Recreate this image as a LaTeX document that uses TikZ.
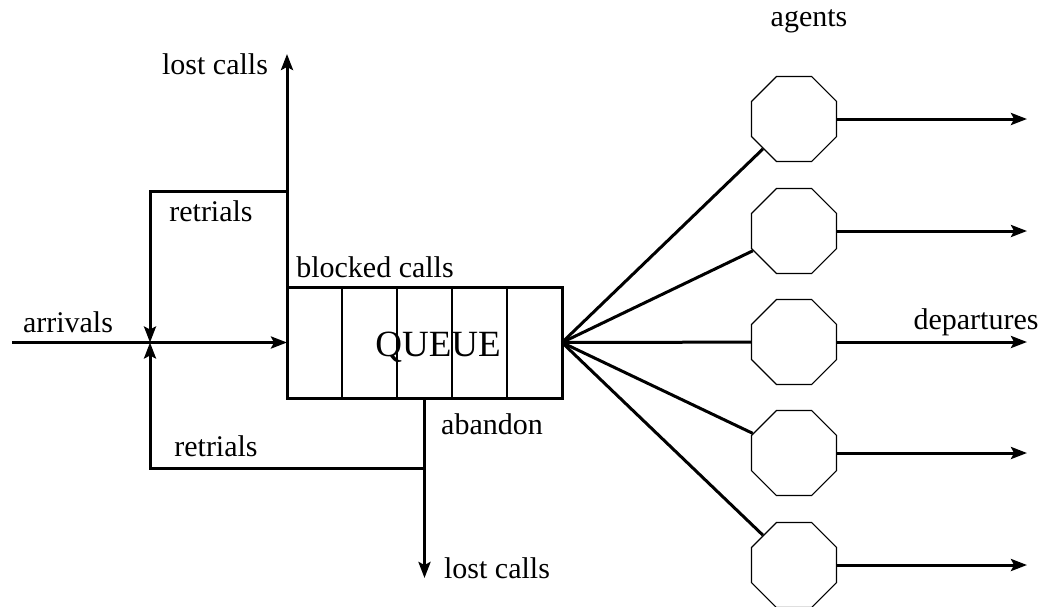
\documentclass[tikz,border=0pt]{standalone}
\usepackage{fontspec}
\setmainfont{Liberation Serif}
\usetikzlibrary{shapes.geometric,arrows.meta}
\begin{document}
\begin{tikzpicture}[x=0.5pt,y=-0.5pt,
  flow/.style={line width=1.5pt,-{Stealth[length=8pt,width=6pt,inset=1.5pt]}},
  plain/.style={line width=1.5pt},
  agent/.style={draw,line width=0.6pt,regular polygon,regular polygon sides=8,minimum size=46pt,inner sep=0pt},
  lbl/.style={font=\fontsize{15pt}{17pt}\selectfont,inner sep=0pt}]
\useasboundingbox (0,0) rectangle (1043,606);
% queue
\node[draw,line width=1.5pt,minimum width=137.5pt,minimum height=55.5pt,inner sep=0pt,outer sep=0pt] (queue) at (424.5,342.5) {};
\foreach \x in {342,397,452,507}{\draw[line width=0.7pt] (\x,287.5) -- (\x,397.5);}
\node[inner sep=0pt,font=\fontsize{18.5pt}{21pt}\selectfont] (qtext) at (438,347) {QUEUE};
% agents
\foreach \i/\y in {1/119,2/231,3/342,4/453,5/565}{
  \node[agent] (a\i) at (794,\y) {};
  \coordinate (o\i) at (1027,\y);
  \draw[plain] (queue.east) -- (a\i);
  \draw[flow] (a\i.east) -- (o\i);
}
% arrivals
\coordinate (in) at (12,342.5);
\coordinate (j) at (150,342.5);
\draw[flow] (in) -- (queue.west);
% upper branch
\coordinate (lc1) at (287,54);
\coordinate (r1) at (287,191);
\draw[flow] (queue.north west) -- (lc1);
\draw[flow] (r1) -| (j);
% lower branch
\coordinate (lc2) at (424.5,578);
\coordinate (r2) at (424.5,468);
\draw[flow] (queue.south) -- (lc2);
\draw[flow] (r2) -| (j);
% labels
\node[lbl] (tlost) at (215,64) {lost calls};
\node[lbl] (tret1) at (211,211) {retrials};
\node[lbl] (tblock) at (375,267) {blocked calls};
\node[lbl] (tarr) at (68,322) {arrivals};
\node[lbl] (tret2) at (216,446) {retrials};
\node[lbl] (tab) at (492,424) {abandon};
\node[lbl] (blost) at (497,568) {lost calls};
\node[lbl] (tagents) at (809,21) {agents};
\node[lbl] (tdep) at (976,322) {departures};
\end{tikzpicture}
\end{document}
